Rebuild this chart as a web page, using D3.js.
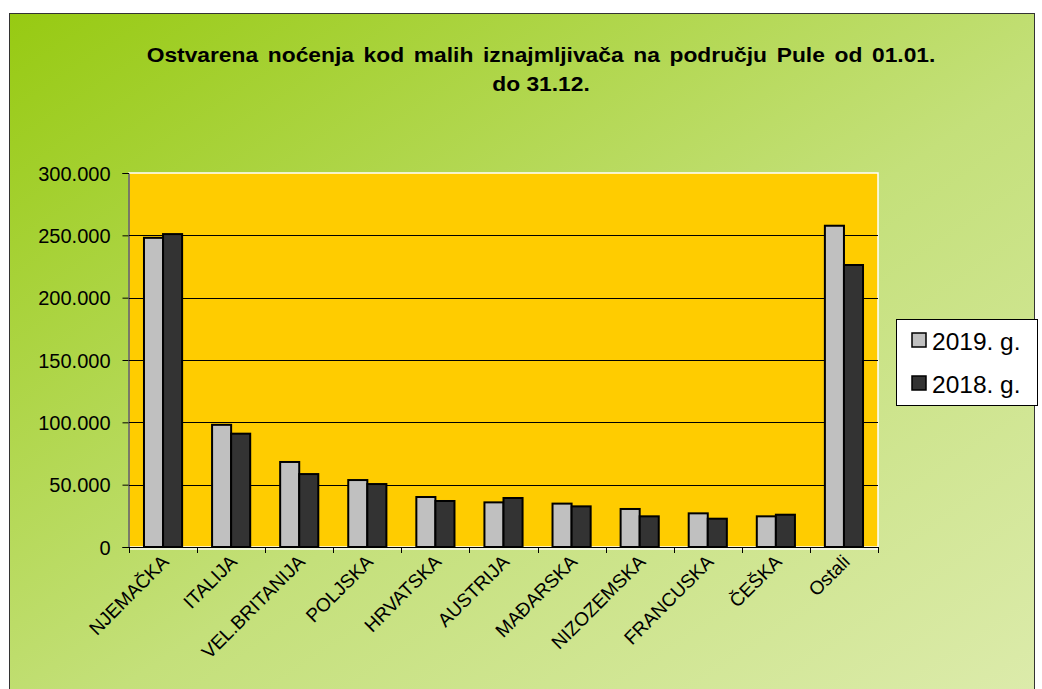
<!DOCTYPE html>
<html>
<head>
<meta charset="utf-8">
<script src="https://cdn.jsdelivr.net/npm/d3@7"></script>
<style>
  body { margin: 0; background: #fff; }
  svg { display: block; font-family: Arial, "Liberation Sans", sans-serif; }
</style>
</head>
<body>
<svg width="1042" height="689"></svg>
<script>
var categories = ["NJEMAČKA", "ITALIJA", "VEL.BRITANIJA", "POLJSKA", "HRVATSKA", "AUSTRIJA",
                  "MAĐARSKA", "NIZOZEMSKA", "FRANCUSKA", "ČEŠKA", "Ostali"];
var seriesNames = ["2019. g.", "2018. g."];
var values2019 = [248000, 98000, 68200, 53700, 40100, 35800, 34800, 30500, 27000, 24600, 257700];
var values2018 = [251000, 90900, 58500, 50500, 36900, 39300, 32600, 24600, 22700, 25900, 226200];
var yTicks = [0, 50000, 100000, 150000, 200000, 250000, 300000];

var svg = d3.select("svg");

// background gradient
var defs = svg.append("defs");
var grad = defs.append("linearGradient")
    .attr("id", "bg")
    .attr("x1", "0%").attr("y1", "0%")
    .attr("x2", "100%").attr("y2", "100%");
grad.append("stop").attr("offset", "0%").attr("stop-color", "#97ca12");
grad.append("stop").attr("offset", "55%").attr("stop-color", "#c4e07a");
grad.append("stop").attr("offset", "100%").attr("stop-color", "#dcebab");

svg.append("rect")
    .attr("x", 9.5).attr("y", 13.5)
    .attr("width", 1025).attr("height", 680)
    .attr("fill", "url(#bg)")
    .attr("stroke", "#333").attr("stroke-width", 1);

// title - the original looks a bit stretched sideways, so scale to ~789px
var tg = svg.append("g");
var title = tg.append("text")
    .attr("text-anchor", "middle")
    .attr("font-weight", "bold")
    .attr("font-size", 20.5)
    .attr("fill", "#000");
var line1 = title.append("tspan").attr("x", 0).attr("y", 62)
    .attr("word-spacing", 3)
    .text("Ostvarena noćenja kod malih iznajmljivača na području Pule od 01.01.");
title.append("tspan").attr("x", 0).attr("y", 91).text("do 31.12.");
var w = line1.node().getComputedTextLength();
tg.attr("transform", "translate(541,0) scale(" + (789 / w) + ",1)");

// plot area
var pLeft = 129, pRight = 878, pTop = 173, pBottom = 547;

var x = d3.scaleBand().domain(categories).range([pLeft, pRight]).paddingInner(0.44).paddingOuter(0.22);
var x1 = d3.scaleBand().domain(seriesNames).range([0, x.bandwidth()]);
var y = d3.scaleLinear().domain([0, 300000]).range([pBottom, pTop]);

svg.append("rect")
    .attr("x", pLeft).attr("y", pTop)
    .attr("width", pRight - pLeft).attr("height", pBottom - pTop)
    .attr("fill", "#ffcc00")
    .attr("stroke", "#fff").attr("stroke-width", 1.5);

// gridlines
svg.append("g")
    .selectAll("line")
    .data(yTicks.filter(function(d) { return d > 0 && d < 300000; }))
    .join("line")
    .attr("x1", pLeft).attr("x2", pRight)
    .attr("y1", function(d) { return Math.round(y(d)) + 0.5; })
    .attr("y2", function(d) { return Math.round(y(d)) + 0.5; })
    .attr("stroke", "#000").attr("stroke-width", 1);

// bars
var colors = { "2019. g.": "#c0c0c0", "2018. g.": "#333333" };
var rows = categories.map(function(c, i) {
    return { cat: c, vals: [{ s: seriesNames[0], v: values2019[i] }, { s: seriesNames[1], v: values2018[i] }] };
});
var groups = svg.append("g").selectAll("g")
    .data(rows)
    .join("g")
    .attr("transform", function(d) { return "translate(" + x(d.cat) + ",0)"; });
groups.selectAll("rect")
    .data(function(d) { return d.vals; })
    .join("rect")
    .attr("x", function(d) { return x1(d.s); })
    .attr("y", function(d) { return y(d.v); })
    .attr("width", x1.bandwidth())
    .attr("height", function(d) { return pBottom - y(d.v); })
    .attr("fill", function(d) { return colors[d.s]; })
    .attr("stroke", "#000").attr("stroke-width", 2);

// y axis
var yAxis = svg.append("g")
    .attr("transform", "translate(" + (pLeft - 0.5) + ",0)")
    .call(d3.axisLeft(y).tickValues(yTicks).tickSize(6).tickPadding(12)
        .tickFormat(function(d) { return d === 0 ? "0" : d3.format(",")(d).replace(/,/g, "."); }));
yAxis.select(".domain").attr("stroke", "#000");
yAxis.selectAll("line").attr("stroke", "#000");
yAxis.selectAll("text").attr("font-size", 20).attr("font-family", "Arial, 'Liberation Sans', sans-serif")
    .attr("fill", "#000").attr("dy", "0.35em");

// x axis
var tickPos = d3.range(categories.length + 1).map(function(i) { return pLeft + i * (pRight - pLeft) / categories.length; });
svg.append("line")
    .attr("x1", pLeft).attr("x2", pRight)
    .attr("y1", pBottom + 0.5).attr("y2", pBottom + 0.5)
    .attr("stroke", "#000");
svg.append("line")
    .attr("x1", pLeft).attr("x2", pRight)
    .attr("y1", pBottom + 2).attr("y2", pBottom + 2)
    .attr("stroke", "#fff").attr("stroke-width", 1.5);
svg.append("g").selectAll("line")
    .data(tickPos)
    .join("line")
    .attr("x1", function(d) { return Math.round(d) + 0.5; })
    .attr("x2", function(d) { return Math.round(d) + 0.5; })
    .attr("y1", pBottom).attr("y2", pBottom + 6)
    .attr("stroke", "#000");

svg.append("g").selectAll("text")
    .data(categories)
    .join("text")
    .attr("transform", function(d) {
        var cx = x(d) + x.bandwidth() / 2 + 7;
        return "translate(" + cx + "," + (pBottom + 16) + ") rotate(-45)";
    })
    .attr("text-anchor", "end")
    .attr("font-size", 19)
    .attr("fill", "#000")
    .text(function(d) { return d; });

// legend
var legend = svg.append("g").attr("transform", "translate(896,319)");
legend.append("rect")
    .attr("x", 0.5).attr("y", 0.5).attr("width", 141).attr("height", 86)
    .attr("fill", "#fff").attr("stroke", "#000");
var li = legend.selectAll("g.item")
    .data(seriesNames)
    .join("g")
    .attr("class", "item")
    .attr("transform", function(d, i) { return "translate(16," + (14 + i * 43) + ")"; });
li.append("rect")
    .attr("width", 14).attr("height", 14)
    .attr("fill", function(d) { return colors[d]; })
    .attr("stroke", "#000").attr("stroke-width", 1.5);
li.append("text")
    .attr("x", 20).attr("y", 17)
    .attr("font-size", 24.5)
    .attr("fill", "#000")
    .text(function(d) { return d; });
</script>
</body>
</html>
